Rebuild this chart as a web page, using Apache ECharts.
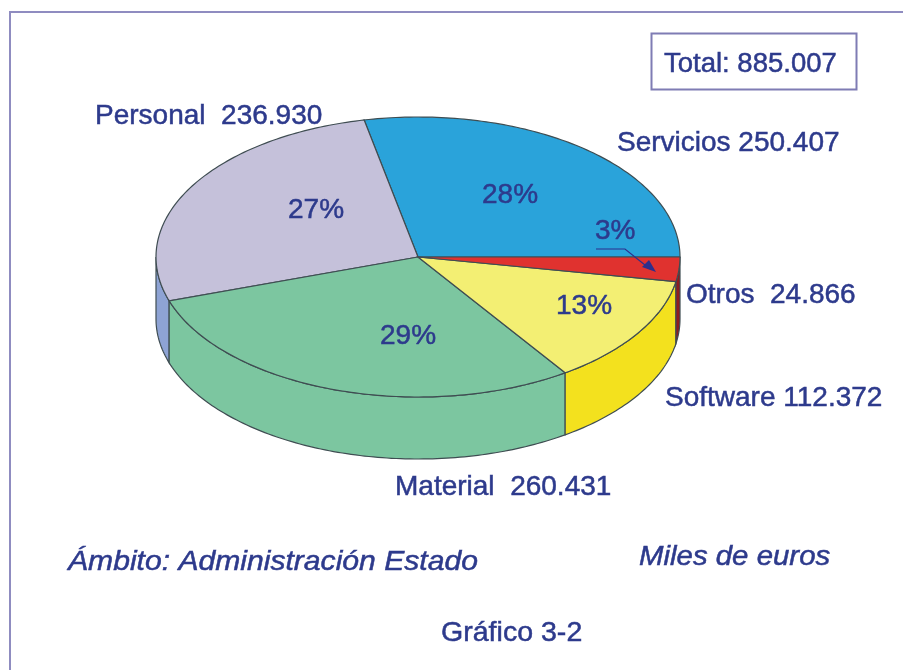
<!DOCTYPE html>
<html>
<head>
<meta charset="utf-8">
<style>
  html, body { margin: 0; padding: 0; background: #fff; }
  #chart { width: 903px; height: 670px; }
</style>
<script src="https://cdn.jsdelivr.net/npm/echarts@6/dist/echarts.min.js"></script>
</head>
<body>
<div id="chart"></div>
<script>
// datos, en el orden en que se recorre la tarta (antihorario desde las 3)
const categories = ['Servicios', 'Personal', 'Material', 'Software', 'Otros'];
const values = [250407, 236930, 260431, 112372, 24866];
const amountLabels = ['Servicios 250.407', 'Personal  236.930', 'Material  260.431', 'Software 112.372', 'Otros  24.866'];
const percentLabels = ['28%', '27%', '29%', '13%', '3%'];
const topColors = ['#2aa3da', '#c5c1da', '#7cc6a0', '#f3ef73', '#e0322f'];
const sideColors = ['#2aa3da', '#8ea3d4', '#7cc6a0', '#f3e11e', '#8e1c20'];
const totalLabel = 'Total: 885.007';
const scopeLabel = 'Ámbito: Administración Estado';
const unitLabel = 'Miles de euros';
const figureLabel = 'Gráfico 3-2';

const sum = values.reduce((a, b) => a + b, 0);
const cx = 418, cy = 257, rx = 262, ry = 140, depth = 62;
const textColor = '#2d3a8c';

const pt = (deg, dy) => {
  const r = deg * Math.PI / 180;
  return [cx + rx * Math.cos(r), cy - ry * Math.sin(r) + (dy || 0)];
};

const arc = (a, b, dy) => {
  const pts = [];
  const n = Math.max(2, Math.ceil(Math.abs(b - a)));
  for (let i = 0; i <= n; i++) pts.push(pt(a + (b - a) * i / n, dy));
  return pts;
};

const edge = { stroke: '#3f4d52', lineWidth: 1.2 };

const renderSlice = (params, api) => {
  const before = values.slice(0, params.dataIndex).reduce((a, b) => a + b, 0);
  const a = before / sum * 360;
  const b = a + api.value(0) / sum * 360;
  const children = [];
  // pared lateral: solo la mitad delantera de la tarta
  const wa = Math.max(a, 180), wb = Math.min(b, 360);
  if (wb > wa) {
    children.push({
      type: 'polygon',
      shape: { points: arc(wa, wb, 0).concat(arc(wb, wa, depth)) },
      style: { fill: sideColors[params.dataIndex], ...edge }
    });
  }
  children.push({
    type: 'polygon',
    shape: { points: [[cx, cy]].concat(arc(a, b, 0)) },
    style: { fill: topColors[params.dataIndex], ...edge }
  });
  return { type: 'group', children };
};

const label = (text, x, y, size, opts) => ({
  type: 'text',
  x, y,
  z: 10,
  scaleX: opts && opts.sx ? opts.sx : 1,
  style: {
    text,
    fill: textColor,
    stroke: textColor,
    lineWidth: 0.5,
    font: (opts && opts.italic ? 'italic ' : '') + size + 'px "Liberation Sans", Arial, sans-serif',
    textAlign: 'left',
    textVerticalAlign: 'middle'
  }
});

const chart = echarts.init(document.getElementById('chart'));
chart.setOption({
  backgroundColor: '#ffffff',
  animation: false,
  series: [{
    type: 'custom',
    coordinateSystem: 'none',
    renderItem: renderSlice,
    data: values.map((v, i) => ({ name: categories[i], value: [v] })),
    silent: true
  }],
  graphic: [
    // marco
    { type: 'polyline', shape: { points: [[10, 670], [10, 12], [903, 12]] }, style: { stroke: '#8f8cc0', lineWidth: 2, fill: 'none' } },
    { type: 'rect', shape: { x: 651.5, y: 33.5, width: 205, height: 56 }, style: { fill: '#fff', stroke: '#7f7cb4', lineWidth: 2 } },
    // flecha del 3%
    { type: 'polyline', z: 9, shape: { points: [[596, 249], [625, 249], [650, 269]] }, style: { stroke: '#2d2f8c', lineWidth: 1.2, fill: 'none' } },
    { type: 'polygon', z: 9, shape: { points: [[656, 272], [642, 267], [649, 260]] }, style: { fill: '#2d2f8c' } },
    label(totalLabel, 664, 64, 27.5),
    label(amountLabels[1], 95, 116, 28),
    label(amountLabels[0], 617, 143, 28),
    label(amountLabels[4], 686, 295, 28),
    label(amountLabels[3], 665, 398, 28),
    label(amountLabels[2], 395, 487, 28),
    label(percentLabels[0], 482, 195, 28),
    label(percentLabels[1], 288, 210, 28),
    label(percentLabels[2], 380, 336, 28),
    label(percentLabels[3], 556, 306, 28),
    label(percentLabels[4], 595, 231, 28),
    label(scopeLabel, 68, 562, 28, { italic: true, sx: 1.075 }),
    label(unitLabel, 639, 557, 28, { italic: true, sx: 1.05 }),
    label(figureLabel, 441, 633, 28, { sx: 1.02 })
  ]
});
</script>
</body>
</html>
